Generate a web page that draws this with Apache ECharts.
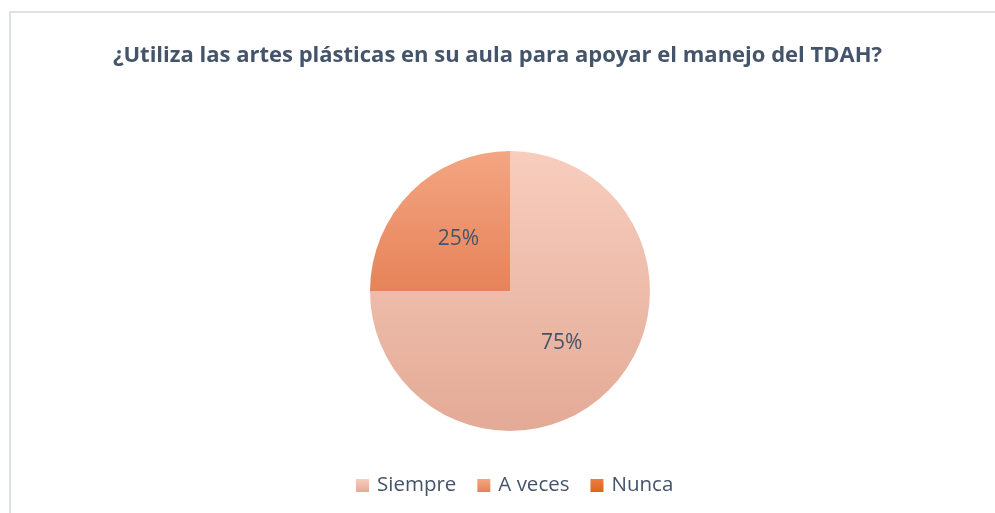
<!DOCTYPE html>
<html>
<head>
<meta charset="utf-8">
<script src="https://cdn.jsdelivr.net/npm/echarts@6/dist/echarts.min.js"></script>
<style>
  html, body { margin: 0; padding: 0; background: #fff; }
  #chart { width: 995px; height: 513px; }
</style>
</head>
<body>
<div id="chart"></div>
<script>
const categories = ['Siempre', 'A veces', 'Nunca'];
const values = [75, 25, 0];
// gradient top / bottom per category
const colorTops = ['#F8CDBE', '#F3A682', '#F07C3C'];
const colorBottoms = ['#E3AA96', '#E6835A', '#D8651F'];

const textColor = '#44546A';
const font = 'Open Sans';

function grad(i) {
  return new echarts.graphic.LinearGradient(0, 0, 0, 1, [
    { offset: 0, color: colorTops[i] },
    { offset: 1, color: colorBottoms[i] }
  ]);
}

const chart = echarts.init(document.getElementById('chart'));
chart.setOption({
  animation: false,
  graphic: [{
    type: 'rect',
    shape: { x: 10, y: 12, width: 1000, height: 520 },
    style: { fill: 'none', stroke: '#DDE1E7', lineWidth: 2 },
    silent: true
  }],
  title: {
    text: '¿Utiliza las artes plásticas en su aula para apoyar el manejo del TDAH?',
    left: 'center',
    top: 40,
    textStyle: {
      fontFamily: font,
      fontSize: 22,
      fontWeight: 'bold',
      color: textColor
    }
  },
  legend: {
    bottom: 12,
    left: 351,
    itemWidth: 13,
    itemHeight: 13,
    itemGap: 21,
    icon: 'rect',
    textStyle: { fontFamily: font, fontSize: 20.5, color: textColor, padding: [0, 0, 0, 3] },
    data: categories
  },
  series: [{
    type: 'pie',
    center: [510, 291],
    radius: 140,
    startAngle: 90,
    clockwise: true,
    avoidLabelOverlap: false,
    label: {
      position: 'inside',
      fontFamily: font,
      fontSize: 21,
      color: textColor,
      formatter: p => p.value === 0 ? '' : p.percent + '%'
    },
    labelLine: { show: false },
    emphasis: { disabled: true },
    data: categories.map((c, i) => ({
      name: c,
      value: values[i],
      itemStyle: { color: grad(i) }
    }))
  }]
});
</script>
</body>
</html>
